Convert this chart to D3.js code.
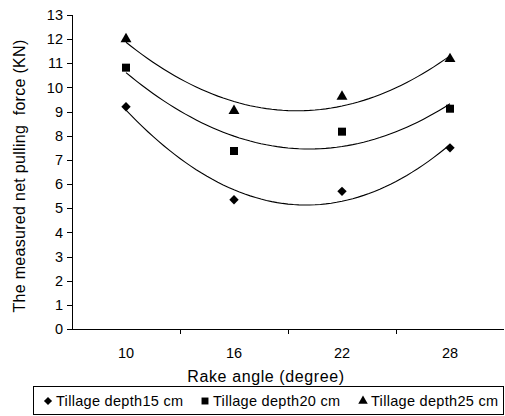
<!DOCTYPE html>
<html>
<head>
<meta charset="utf-8">
<script src="https://cdn.jsdelivr.net/npm/d3@7"></script>
<style>
  body { margin: 0; background: #fff; }
  svg text { font-family: "Liberation Sans", Arial, sans-serif; fill: #000; }
  .axis path, .axis line { stroke: #000; shape-rendering: crispEdges; }
</style>
</head>
<body>
<div id="chart"></div>
<script>
// rake angle categories
var angles = ["10", "16", "22", "28"];
// measured net pulling force (KN) for each tillage depth
var depth15 = [9.2, 5.35, 5.7, 7.5];
var depth20 = [10.82, 7.37, 8.17, 9.12];
var depth25 = [12.0, 9.03, 9.62, 11.18];
var yTicks = d3.range(0, 14);
var seriesNames = ["Tillage depth15 cm", "Tillage depth20 cm", "Tillage depth25 cm"];

var svgWidth = 505, svgHeight = 416;
var margin = {top: 15, right: 1, bottom: 87, left: 72};
var plotW = svgWidth - margin.left - margin.right,
    plotH = svgHeight - margin.top - margin.bottom;

var svg = d3.select("#chart").append("svg")
  .attr("width", svgWidth)
  .attr("height", svgHeight);

var g = svg.append("g").attr("transform", "translate(" + margin.left + "," + margin.top + ")");

var xScale = d3.scaleBand().domain(angles).range([0, plotW]);
var yScale = d3.scaleLinear().domain([0, 13]).range([plotH, 0]);

// y axis
var yAxis = d3.axisLeft(yScale).tickValues(yTicks).tickSize(5).tickPadding(4).tickFormat(d3.format("d"));
g.append("g").attr("class", "axis").call(yAxis)
  .call(function(a) { a.select(".domain").attr("d", "M0.5," + plotH + "V0.5H-5"); })
  .selectAll("text").style("font-size", "14.5px");

// x axis with ticks on band boundaries
var xAxis = d3.axisBottom(xScale).tickSize(0).tickPadding(19);
var xg = g.append("g").attr("class", "axis").attr("transform", "translate(0," + plotH + ")").call(xAxis);
xg.select(".domain").attr("d", "M0," + 0.5 + "H" + plotW);
xg.selectAll("text").style("font-size", "14.5px");
angles.slice(1).forEach(function(a) {
  xg.append("line")
    .attr("x1", Math.round(xScale(a)) + 0.5).attr("x2", Math.round(xScale(a)) + 0.5)
    .attr("y1", 0).attr("y2", 5).attr("stroke", "#000");
});

// axis titles
svg.append("text")
  .attr("x", margin.left + plotW / 2 - 22)
  .attr("y", 382)
  .attr("text-anchor", "middle")
  .style("font-size", "16px")
  .style("letter-spacing", "0.6px")
  .text("Rake angle (degree)");

svg.append("text")
  .attr("transform", "translate(25," + 176 + ") rotate(-90)")
  .attr("text-anchor", "middle")
  .style("font-size", "16px")
  .style("letter-spacing", "0.3px")
  .style("white-space", "pre")
  .text("The measured net pulling  force (KN)");

// quadratic least-squares trendline, x = category index 1..n
function polyFit(vals) {
  var n = vals.length, s = [0, 0, 0, 0, 0], t = [0, 0, 0];
  vals.forEach(function(v, i) {
    var x = i + 1;
    for (var k = 0; k < 5; k++) s[k] += Math.pow(x, k);
    for (var k = 0; k < 3; k++) t[k] += v * Math.pow(x, k);
  });
  var A = [[s[0], s[1], s[2], t[0]], [s[1], s[2], s[3], t[1]], [s[2], s[3], s[4], t[2]]];
  for (var i = 0; i < 3; i++) {
    for (var j = i + 1; j < 3; j++) {
      var f = A[j][i] / A[i][i];
      for (var k = i; k < 4; k++) A[j][k] -= f * A[i][k];
    }
  }
  var c = [0, 0, 0];
  for (var i = 2; i >= 0; i--) {
    var sum = A[i][3];
    for (var k = i + 1; k < 3; k++) sum -= A[i][k] * c[k];
    c[i] = sum / A[i][i];
  }
  return function(x) { return c[0] + c[1] * x + c[2] * x * x; };
}

var bw = xScale.bandwidth();
function xPos(i) { return xScale(angles[i]) + bw / 2; }
var xIdx = d3.scaleLinear().domain([1, angles.length]).range([xPos(0), xPos(angles.length - 1)]);

// diamond as a square turned 45 degrees
var squareDiamond = {
  draw: function(ctx, size) {
    var r = Math.sqrt(size) / 2 * Math.SQRT2;
    ctx.moveTo(0, -r); ctx.lineTo(r, 0); ctx.lineTo(0, r); ctx.lineTo(-r, 0); ctx.closePath();
  }
};

var series = [
  {name: seriesNames[0], values: depth15, symbol: squareDiamond, size: 44},
  {name: seriesNames[1], values: depth20, symbol: d3.symbolSquare, size: 64},
  {name: seriesNames[2], values: depth25, symbol: d3.symbolTriangle, size: 52}
];

var line = d3.line()
  .x(function(d) { return xIdx(d[0]); })
  .y(function(d) { return yScale(d[1]); });

series.forEach(function(s) {
  var fit = polyFit(s.values);
  var pts = d3.range(1, angles.length + 0.001, 0.05).map(function(x) { return [x, fit(x)]; });
  g.append("path")
    .attr("d", line(pts))
    .attr("fill", "none")
    .attr("stroke", "#000")
    .attr("stroke-width", 1.1);

  g.selectAll(null)
    .data(s.values)
    .enter()
    .append("path")
    .attr("transform", function(d, i) { return "translate(" + xPos(i) + "," + yScale(d) + ")"; })
    .attr("d", d3.symbol().type(s.symbol).size(s.size))
    .attr("fill", "#000");
});

// legend
var legend = svg.append("g");
legend.append("rect")
  .attr("x", 33.5).attr("y", 386.5)
  .attr("width", 470).attr("height", 28)
  .attr("fill", "#fff").attr("stroke", "#000");

var legendX = [48, 205, 363];
series.forEach(function(s, i) {
  legend.append("path")
    .attr("transform", "translate(" + legendX[i] + ",401)")
    .attr("d", d3.symbol().type(s.symbol).size(s.size * 0.75))
    .attr("fill", "#000");
  legend.append("text")
    .attr("x", legendX[i] + 8)
    .attr("y", 405.5)
    .style("font-size", "14.5px")
    .style("letter-spacing", "0.3px")
    .text(s.name);
});
</script>
</body>
</html>
